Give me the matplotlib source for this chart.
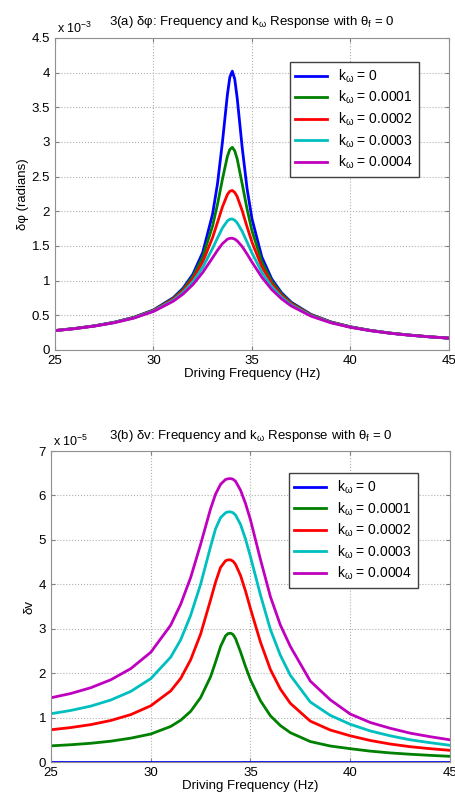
import numpy as np
import matplotlib
matplotlib.use('Agg')
import matplotlib.pyplot as plt

plt.rcParams['font.family'] = ['Liberation Sans', 'DejaVu Sans']
plt.rcParams['mathtext.fontset'] = 'custom'
plt.rcParams['mathtext.rm'] = 'Liberation Sans'
plt.rcParams['mathtext.it'] = 'Liberation Sans'

# driving frequency (Hz)
freq = [25, 26, 27, 28, 29, 30, 31, 31.5, 32, 32.5, 33, 33.25, 33.5, 33.75, 33.875, 34,
        34.125, 34.25, 34.5, 34.75, 35, 35.5, 36, 36.5, 37, 38, 39, 40, 41, 42, 43, 44, 45]

k_labels = ['0', '0.0001', '0.0002', '0.0003', '0.0004']

# delta phi, units of 1e-3 rad
dphi_k0 = [0.280, 0.310, 0.348, 0.399, 0.471, 0.577, 0.753, 0.891, 1.092, 1.407, 1.959,
           2.399, 2.998, 3.679, 3.933, 4.021, 3.905, 3.630, 2.927, 2.328, 1.891, 1.340,
           1.025, 0.825, 0.687, 0.512, 0.405, 0.334, 0.283, 0.244, 0.215, 0.191, 0.171]
dphi_k1 = [0.280, 0.309, 0.347, 0.398, 0.469, 0.573, 0.743, 0.874, 1.061, 1.342, 1.789,
           2.101, 2.463, 2.790, 2.892, 2.922, 2.871, 2.754, 2.399, 2.033, 1.719, 1.272,
           0.993, 0.807, 0.677, 0.508, 0.403, 0.333, 0.282, 0.244, 0.214, 0.190, 0.171]
dphi_k2 = [0.280, 0.309, 0.346, 0.397, 0.466, 0.568, 0.732, 0.854, 1.025, 1.269, 1.621,
           1.840, 2.064, 2.241, 2.289, 2.300, 2.272, 2.211, 2.011, 1.776, 1.554, 1.199,
           0.956, 0.786, 0.664, 0.502, 0.400, 0.331, 0.281, 0.243, 0.214, 0.190, 0.171]
dphi_k3 = [0.279, 0.308, 0.345, 0.395, 0.463, 0.562, 0.717, 0.831, 0.984, 1.192, 1.465,
           1.616, 1.759, 1.860, 1.885, 1.889, 1.871, 1.833, 1.711, 1.557, 1.398, 1.121,
           0.914, 0.762, 0.649, 0.495, 0.396, 0.329, 0.279, 0.242, 0.213, 0.189, 0.170]
dphi_k4 = [0.278, 0.307, 0.344, 0.392, 0.459, 0.555, 0.702, 0.806, 0.942, 1.118, 1.330,
           1.438, 1.533, 1.597, 1.610, 1.611, 1.599, 1.573, 1.492, 1.384, 1.267, 1.049,
           0.872, 0.737, 0.633, 0.487, 0.392, 0.326, 0.278, 0.241, 0.212, 0.189, 0.170]

# delta v, units of 1e-5
dv_k0 = [0.0] * len(freq)
dv_k1 = [0.364, 0.389, 0.422, 0.469, 0.537, 0.630, 0.800, 0.940, 1.140, 1.450, 1.920,
         2.250, 2.600, 2.840, 2.890, 2.900, 2.870, 2.780, 2.480, 2.150, 1.850, 1.380,
         1.040, 0.820, 0.660, 0.460, 0.360, 0.300, 0.245, 0.205, 0.175, 0.150, 0.128]
dv_k2 = [0.726, 0.776, 0.842, 0.935, 1.067, 1.265, 1.600, 1.880, 2.300, 2.880, 3.650,
         4.050, 4.380, 4.530, 4.550, 4.550, 4.520, 4.450, 4.200, 3.850, 3.450, 2.700,
         2.080, 1.640, 1.320, 0.920, 0.720, 0.590, 0.485, 0.405, 0.345, 0.300, 0.263]
dv_k3 = [1.087, 1.161, 1.259, 1.396, 1.589, 1.876, 2.360, 2.750, 3.300, 4.000, 4.850,
         5.250, 5.500, 5.610, 5.630, 5.630, 5.610, 5.560, 5.350, 5.020, 4.620, 3.760,
         2.980, 2.400, 1.950, 1.350, 1.050, 0.850, 0.700, 0.590, 0.500, 0.435, 0.376]
dv_k4 = [1.446, 1.543, 1.673, 1.851, 2.102, 2.469, 3.080, 3.550, 4.150, 4.900, 5.700,
         6.030, 6.250, 6.360, 6.375, 6.380, 6.365, 6.320, 6.120, 5.820, 5.450, 4.560,
         3.720, 3.080, 2.600, 1.820, 1.400, 1.080, 0.890, 0.760, 0.650, 0.570, 0.500]

colors = ['#0000ff', '#008000', '#ff0000', '#00bfbf', '#bf00bf']

fig = plt.figure(figsize=(4.56, 7.97), dpi=100)
ax1 = fig.add_axes([0.1206, 0.5609, 0.864, 0.3915])
ax2 = fig.add_axes([0.1118, 0.0439, 0.875, 0.3902])


def style_axes(ax, ymax, ystep, exp_text):
    ax.set_xlim(25, 45)
    ax.set_ylim(0, ymax)
    ax.set_xticks([25, 30, 35, 40, 45])
    yt = np.arange(0, ymax + ystep / 2, ystep)
    ax.set_yticks(yt)
    ax.set_yticklabels(['%g' % v for v in yt])
    ax.grid(True, linestyle=':', color='#b0b0b0', linewidth=0.8)
    ax.tick_params(direction='in', top=True, right=True, labelsize=9.5, length=3,
                   color='#808080')
    for s in ax.spines.values():
        s.set_color('#909090')
        s.set_linewidth(0.8)
    ax.set_xlabel('Driving Frequency (Hz)', fontsize=9.5, labelpad=1)
    ax.text(0.005, 1.005, exp_text, transform=ax.transAxes, fontsize=9,
            ha='left', va='bottom')


series1 = [dphi_k0, dphi_k1, dphi_k2, dphi_k3, dphi_k4]
for ys, c, k in zip(series1, colors, k_labels):
    ax1.plot(freq, ys, color=c, linewidth=2.0, label=r'k$_\omega$ = ' + k)
style_axes(ax1, 4.5, 0.5, r'x 10$^{-3}$')
ax1.set_ylabel(r'δφ (radians)', fontsize=9.5, labelpad=2)
ax1.set_title(r'3(a) δφ: Frequency and k$_\omega$ Response with θ$_f$ = 0',
              fontsize=9.5, pad=9)
ax1.legend(loc='upper left', bbox_to_anchor=(0.596, 0.923), borderaxespad=0,
           fontsize=10, fancybox=False, edgecolor='#404040', framealpha=1,
           handlelength=2.3, borderpad=0.4, labelspacing=0.3)

series2 = [dv_k0, dv_k1, dv_k2, dv_k3, dv_k4]
for ys, c, k in zip(series2, colors, k_labels):
    ax2.plot(freq, ys, color=c, linewidth=2.0, label=r'k$_\omega$ = ' + k)
style_axes(ax2, 7, 1, r'x 10$^{-5}$')
ax2.set_ylabel(r'δv', fontsize=9.5, labelpad=2)
ax2.set_title(r'3(b) δv: Frequency and k$_\omega$ Response with θ$_f$ = 0',
              fontsize=9.5, pad=9)
ax2.legend(loc='upper left', bbox_to_anchor=(0.596, 0.929), borderaxespad=0,
           fontsize=10, fancybox=False, edgecolor='#404040', framealpha=1,
           handlelength=2.3, borderpad=0.4, labelspacing=0.3)

fig.savefig('out.png', dpi=100)
